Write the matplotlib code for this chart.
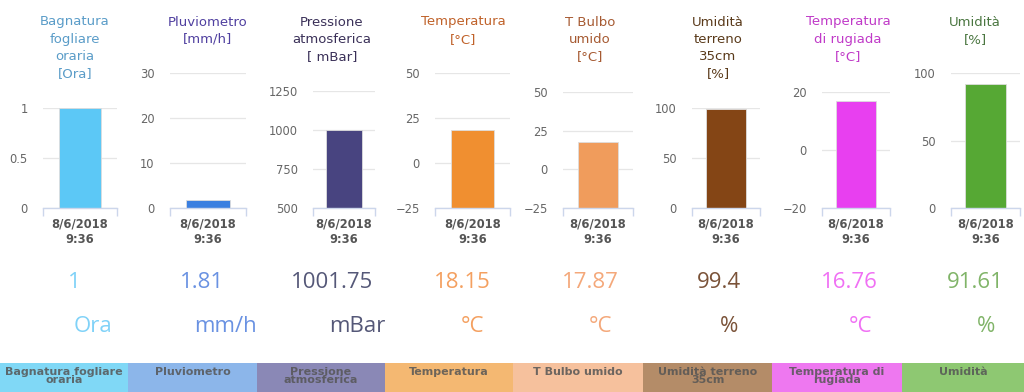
"""Weather station dashboard: eight small single-bar gauges with value readouts."""

import matplotlib
matplotlib.use("Agg")
import matplotlib.pyplot as plt
from matplotlib.patches import Rectangle

# ---- data -------------------------------------------------------------
titles = [
    ["Bagnatura", "fogliare", "oraria", "[Ora]"],
    ["Pluviometro", "[mm/h]"],
    ["Pressione", "atmosferica", "[ mBar]"],
    ["Temperatura", "[°C]"],
    ["T Bulbo", "umido", "[°C]"],
    ["Umidità", "terreno", "35cm", "[%]"],
    ["Temperatura", "di rugiada", "[°C]"],
    ["Umidità", "[%]"],
]
values = [1, 1.81, 1001.75, 18.15, 17.87, 99.4, 16.76, 91.61]
units = ["Ora", "mm/h", "mBar", "°C", "°C", "%", "°C", "%"]
yticks = [
    [0, 0.5, 1],
    [0, 10, 20, 30],
    [500, 750, 1000, 1250],
    [-25, 0, 25, 50],
    [-25, 0, 25, 50],
    [0, 50, 100],
    [-20, 0, 20],
    [0, 50, 100],
]
ytick_labels = [
    ["0", "0.5", "1"],
    ["0", "10", "20", "30"],
    ["500", "750", "1000", "1250"],
    ["−25", "0", "25", "50"],
    ["−25", "0", "25", "50"],
    ["0", "50", "100"],
    ["−20", "0", "20"],
    ["0", "50", "100"],
]
category = "8/6/2018\n9:36"
band_labels = [
    "Bagnatura fogliare\noraria", "Pluviometro", "Pressione\natmosferica",
    "Temperatura", "T Bulbo umido", "Umidità terreno\n35cm",
    "Temperatura di\nrugiada", "Umidità",
]

# ---- styling / layout (pixels on a 1024x392 canvas) -------------------
bar_colors = ["#5cc8f6", "#3b7fe0", "#484480", "#f08f30",
              "#f09c5c", "#844515", "#e83ff0", "#56a834"]
title_colors = ["#5a9cc8", "#5040a0", "#3a3058", "#c0622a",
                "#a65a32", "#5a3a1a", "#c03ac8", "#4a7640"]
value_colors = ["#80d2f8", "#6a92e2", "#555878", "#f4a060",
                "#f4a87a", "#7a5238", "#f070f4", "#80b468"]
band_colors = ["#80d8f6", "#8cb6ea", "#8a88b6", "#f4b872",
               "#f6c19d", "#b48c68", "#ee78f0", "#8ec872"]

W, H = 1024, 392
plot_lr = [(43, 117), (170, 246), (313, 375), (435, 510),
           (563, 633), (692, 760), (822, 890), (951, 1020)]
plot_top = [108, 73, 91, 73, 92, 108, 92, 73]
plot_bottom = 208
title_x = [75, 208, 332, 463, 590, 718, 848, 975]
value_x = [74, 202, 332, 462, 590, 719, 849, 975]
unit_x = [93, 225, 357, 473, 601, 729, 860, 986]
band_edges = [0, 128, 257, 385, 513, 643, 772, 902, 1024]
band_top = 363

GRID = "#e6e6e6"
AXIS = "#ccd6eb"


def fy(py):
    return 1 - py / H


def main():
    fig = plt.figure(figsize=(W / 100, H / 100), dpi=100)
    fig.patch.set_facecolor("white")

    for i in range(8):
        l, r = plot_lr[i]
        ax = fig.add_axes([l / W, fy(plot_bottom), (r - l) / W,
                           (plot_bottom - plot_top[i]) / H])
        lo, hi = yticks[i][0], yticks[i][-1]
        ax.bar([0], [values[i] - lo], bottom=lo, width=0.58,
               color=bar_colors[i], edgecolor="#dddddd", linewidth=0.6,
               zorder=3)
        ax.set_xlim(-0.5, 0.5)
        ax.set_ylim(lo, hi)
        ax.set_yticks(yticks[i])
        ax.set_yticklabels(ytick_labels[i])
        for t in yticks[i]:
            ax.axhline(t, color=GRID, lw=0.9, zorder=1)
        for s in ("top", "left", "right"):
            ax.spines[s].set_visible(False)
        ax.spines["bottom"].set_color(AXIS)
        ax.spines["bottom"].set_linewidth(1)
        ax.spines["bottom"].set_zorder(4)
        ax.tick_params(axis="y", length=0, pad=11, labelsize=8.3,
                       labelcolor="#666666")
        ax.set_xticks([0])
        ax.set_xticklabels([category], fontsize=8.3, fontweight="bold",
                           color="#555555", linespacing=1.25)
        ax.set_xticks([-0.5, 0.5], minor=True)
        ax.tick_params(axis="x", which="major", length=0, pad=7)
        ax.tick_params(axis="x", which="minor", length=6, width=1,
                       color=AXIS, direction="out")
        ax.patch.set_alpha(0)

        # title lines
        for k, line in enumerate(titles[i]):
            fig.text(title_x[i] / W, fy(22 + 17.3 * k), line,
                     ha="center", va="center", fontsize=9.5,
                     color=title_colors[i], family="DejaVu Sans")

        # big value and unit
        fig.text(value_x[i] / W, fy(283), f"{values[i]:g}", ha="center",
                 va="center", fontsize=16, color=value_colors[i],
                 family="Open Sans")
        fig.text(unit_x[i] / W, fy(327), units[i], ha="center",
                 va="center", fontsize=16, color=value_colors[i],
                 family="Open Sans")

        # coloured band at the bottom
        x0, x1 = band_edges[i], band_edges[i + 1]
        fig.patches.append(Rectangle((x0 / W, 0), (x1 - x0) / W,
                                     (H - band_top) / H,
                                     transform=fig.transFigure,
                                     facecolor=band_colors[i],
                                     edgecolor="none", zorder=0))
        fig.text((x0 + x1) / 2 / W, fy(band_top + 4), band_labels[i],
                 ha="center", va="top", fontsize=8, fontweight="bold",
                 color="#555555", alpha=0.85, linespacing=0.8,
                 family="DejaVu Sans")

    fig.savefig("out.png", dpi=100)
    plt.close(fig)


if __name__ == "__main__":
    main()
